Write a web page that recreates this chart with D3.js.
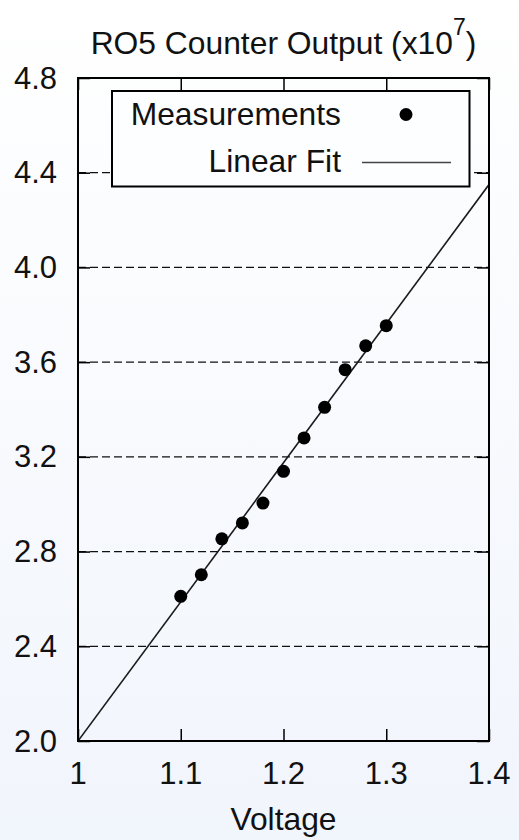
<!DOCTYPE html>
<html>
<head>
<meta charset="utf-8">
<script src="https://cdn.jsdelivr.net/npm/d3@7/dist/d3.min.js"></script>
<style>
html,body{margin:0;padding:0;}
body{width:519px;height:840px;overflow:hidden;}
svg{display:block;}
</style>
</head>
<body>
<script>
// Data
const voltage = [1.10, 1.12, 1.14, 1.16, 1.18, 1.20, 1.22, 1.24, 1.26, 1.28, 1.30];
const counts  = [2.611, 2.702, 2.854, 2.921, 3.005, 3.139, 3.280, 3.409, 3.568, 3.669, 3.754];
const fitX = [1.0, 1.4];
const fitY = [2.0, 4.35];
const xTicks = [1, 1.1, 1.2, 1.3, 1.4];
const xTickLabels = ["1", "1.1", "1.2", "1.3", "1.4"];
const yTicks = [2.0, 2.4, 2.8, 3.2, 3.6, 4.0, 4.4, 4.8];
const yTickLabels = ["2.0", "2.4", "2.8", "3.2", "3.6", "4.0", "4.4", "4.8"];
const gridValues = [2.4, 2.8, 3.2, 3.6, 4.0, 4.4];
const legendLabels = ["Measurements", "Linear Fit"];

const W = 519, H = 840;
const L = 78, R = 489, T = 78, B = 741;
const font = "'Liberation Sans', Arial, Helvetica, sans-serif";

const svg = d3.select("body").append("svg").attr("width", W).attr("height", H);
const defs = svg.append("defs");
const grad = defs.append("linearGradient").attr("id","bg").attr("x1",0).attr("y1",0).attr("x2",0).attr("y2",1);
grad.append("stop").attr("offset","0%").attr("stop-color","#ffffff");
grad.append("stop").attr("offset","100%").attr("stop-color","#f1f5fc");
svg.append("rect").attr("width",W).attr("height",H).attr("fill","url(#bg)");

const x = d3.scaleLinear().domain([1.0, 1.4]).range([L, R]);
const y = d3.scaleLinear().domain([2.0, 4.8]).range([B, T]);

defs.append("clipPath").attr("id","plot").append("rect")
  .attr("x", L).attr("y", T).attr("width", R-L).attr("height", B-T);

// grid
svg.append("g").selectAll("line").data(gridValues).join("line")
  .attr("x1", L).attr("x2", R)
  .attr("y1", d => y(d)).attr("y2", d => y(d))
  .attr("stroke", "#111").attr("stroke-width", 1.2)
  .attr("stroke-dasharray", "8,4");

// fit line
svg.append("path")
  .datum(fitX.map((v,i)=>[v, fitY[i]]))
  .attr("clip-path","url(#plot)")
  .attr("d", d3.line().x(d=>x(d[0])).y(d=>y(d[1])))
  .attr("fill","none").attr("stroke","#1a1a1a").attr("stroke-width",1.6);

// points
svg.append("g").selectAll("circle").data(voltage).join("circle")
  .attr("cx", (d)=>x(d)).attr("cy", (d,i)=>y(counts[i]))
  .attr("r", 6.5).attr("fill", "#000");

// axes: ticks inward, all four sides
const tickLen = 12;
const axB = svg.append("g").attr("transform", `translate(0,${B})`)
  .call(d3.axisTop(x).tickValues(xTicks).tickSize(tickLen).tickFormat(""));
const axT = svg.append("g").attr("transform", `translate(0,${T})`)
  .call(d3.axisBottom(x).tickValues(xTicks).tickSize(tickLen).tickFormat(""));
const axL = svg.append("g").attr("transform", `translate(${L},0)`)
  .call(d3.axisRight(y).tickValues(yTicks).tickSize(tickLen).tickFormat(""));
const axR = svg.append("g").attr("transform", `translate(${R},0)`)
  .call(d3.axisLeft(y).tickValues(yTicks).tickSize(tickLen).tickFormat(""));
[axB, axT, axL, axR].forEach(a => {
  a.select(".domain").remove();
  a.selectAll(".tick line").attr("stroke","#000").attr("stroke-width",1.5);
});

// legend box
const lg = svg.append("g");
lg.append("rect").attr("x",112).attr("y",91).attr("width",357.5).attr("height",95.5)
  .attr("fill","#fdfeff").attr("stroke","#000").attr("stroke-width",2);
lg.append("text").attr("x",341).attr("y",125).attr("text-anchor","end")
  .attr("font-family",font).attr("font-size",31.8).attr("fill","#111").text(legendLabels[0]);
lg.append("text").attr("x",341).attr("y",172).attr("text-anchor","end")
  .attr("font-family",font).attr("font-size",31.8).attr("fill","#111").text(legendLabels[1]);
lg.append("circle").attr("cx",406).attr("cy",114.5).attr("r",6.5).attr("fill","#000");
lg.append("line").attr("x1",362).attr("x2",451).attr("y1",162.5).attr("y2",162.5)
  .attr("stroke","#444").attr("stroke-width",1.6);

// frame
svg.append("rect").attr("x",L).attr("y",T).attr("width",R-L).attr("height",B-T)
  .attr("fill","none").attr("stroke","#000").attr("stroke-width",2);

// tick labels
svg.append("g").selectAll("text").data(yTicks).join("text")
  .attr("x", 57).attr("y", d => y(d) + 10.5)
  .attr("text-anchor","end").attr("font-family",font).attr("font-size",31).attr("fill","#111")
  .text((d,i)=>yTickLabels[i]);
svg.append("g").selectAll("text").data(xTicks).join("text")
  .attr("x", d => x(d)).attr("y", 784)
  .attr("text-anchor","middle").attr("font-family",font).attr("font-size",31).attr("fill","#111")
  .text((d,i)=>xTickLabels[i]);

// title
const title = svg.append("text").attr("x",283.5).attr("y",53.5).attr("text-anchor","middle")
  .attr("font-family",font).attr("font-size",31.8).attr("fill","#111");
title.append("tspan").text("RO5 Counter Output (x10");
title.append("tspan").attr("font-size",23).attr("dy",-19).text("7");
title.append("tspan").attr("dy",19).text(")");

// x-axis title
svg.append("text").attr("x",283.5).attr("y",830).attr("text-anchor","middle")
  .attr("font-family",font).attr("font-size",31.8).attr("fill","#111").text("Voltage");
</script>
</body>
</html>
